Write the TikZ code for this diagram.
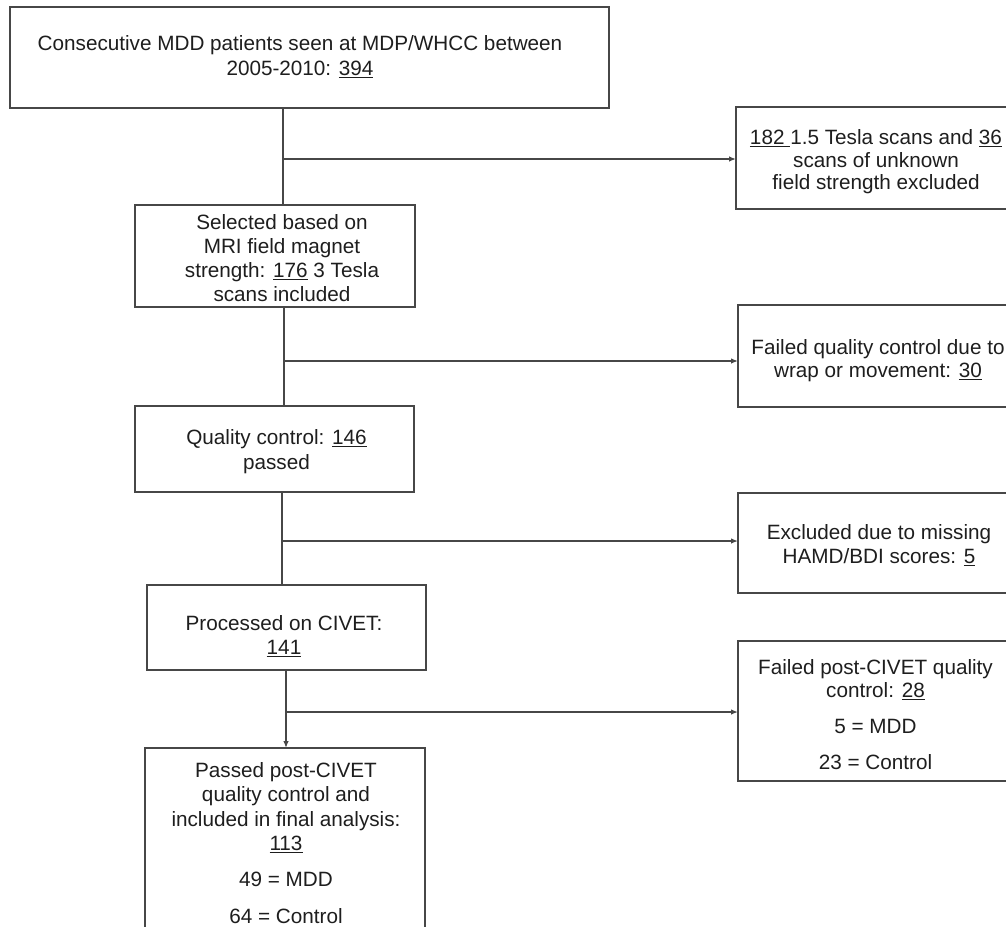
\documentclass[tikz,border=0pt]{standalone}
\usepackage{fontspec}
\setmainfont{Liberation Sans}
\usetikzlibrary{arrows.meta}
\definecolor{linegray}{HTML}{474747}
\definecolor{txtgray}{HTML}{1E1E1E}
\begin{document}
\begin{tikzpicture}[x=1pt,y=-1pt,
  box/.style={draw=linegray, line width=1.3pt, fill=none, inner sep=0pt, outer sep=0pt},
  txt/.style={anchor=north, inner sep=0pt, outer sep=0pt, align=center, text=txtgray,
    font=\fontsize{20.7}{24}\selectfont},
  conn/.style={draw=linegray, line width=1.3pt},
  arr/.style={conn, -{Latex[length=7pt,width=5.5pt]}}]
\clip (0,0) rectangle (1006,926);
\fill[white] (0,0) rectangle (1006,926);
% main column boxes
\node[box, minimum width=599pt, minimum height=101pt] (b1) at (309.5,57.5) {};
\node[box, minimum width=280pt, minimum height=102pt] (b2) at (275,256) {};
\node[box, minimum width=279pt, minimum height=86pt] (b3) at (274.5,449) {};
\node[box, minimum width=279pt, minimum height=85pt] (b4) at (286.5,627.5) {};
\node[box, minimum width=280pt, minimum height=192pt] (b5) at (285,844) {};
% exclusion boxes
\node[box, minimum width=281pt, minimum height=102pt] (e1) at (876.5,158) {};
\node[box, minimum width=280pt, minimum height=102pt] (e2) at (878,356) {};
\node[box, minimum width=280pt, minimum height=100pt] (e3) at (878,543) {};
\node[box, minimum width=280pt, minimum height=140pt] (e4) at (878,711) {};
% texts
\node[txt, font=\fontsize{20.7}{25}\selectfont] (t1) at (300,35.5)
  {Consecutive MDD patients seen at MDP/WHCC between\\2005-2010: \underline{394}};
\node[txt] (t2) at (282,214.5)
  {Selected based on\\MRI field magnet\\strength: \underline{176} 3 Tesla\\scans included};
\node[txt, font=\fontsize{20.7}{25}\selectfont] (t3) at (276.5,429.5)
  {Quality control: \underline{146}\\passed};
\node[txt] (t4) at (284,615.5)
  {Processed on CIVET:\\\underline{141}};
\node[txt, font=\fontsize{20.7}{24.3}\selectfont] (t5) at (286,762.5)
  {Passed post-CIVET\\quality control and\\included in final analysis:\\\underline{113}\\[12pt]49 = MDD\\[12pt]64 = Control};
\node[txt, font=\fontsize{20.7}{22.5}\selectfont] (r1) at (876,129.5)
  {\underline{182\ }1.5 Tesla scans and \underline{36}\\scans of unknown\\field strength excluded};
\node[txt, font=\fontsize{20.7}{23}\selectfont] (r2) at (878,339.5)
  {Failed quality control due to\\wrap or movement: \underline{30}};
\node[txt] (r3) at (879,524.5)
  {Excluded due to missing\\HAMD/BDI scores: \underline{5}};
\node[txt, font=\fontsize{20.7}{23}\selectfont] (r4) at (875.5,659.5)
  {Failed post-CIVET quality\\control: \underline{28}\\[13pt]5 = MDD\\[13pt]23 = Control};
% connector coordinates
\coordinate (v1) at (283,0);
\coordinate (v2) at (284,0);
\coordinate (v3) at (282,0);
\coordinate (v4) at (286,0);
\coordinate (j1) at (283,159);
\coordinate (j2) at (284,361);
\coordinate (j3) at (282,541);
\coordinate (j4) at (286,712);
% vertical connectors
\draw[conn] (v1 |- b1.south) -- (v1 |- b2.north);
\draw[conn] (v2 |- b2.south) -- (v2 |- b3.north);
\draw[conn] (v3 |- b3.south) -- (v3 |- b4.north);
\draw[arr] (v4 |- b4.south) -- (v4 |- b5.north);
% branches
\draw[arr] (j1) -- (j1 -| e1.west);
\draw[arr] (j2) -- (j2 -| e2.west);
\draw[arr] (j3) -- (j3 -| e3.west);
\draw[arr] (j4) -- (j4 -| e4.west);
\end{tikzpicture}
\end{document}
